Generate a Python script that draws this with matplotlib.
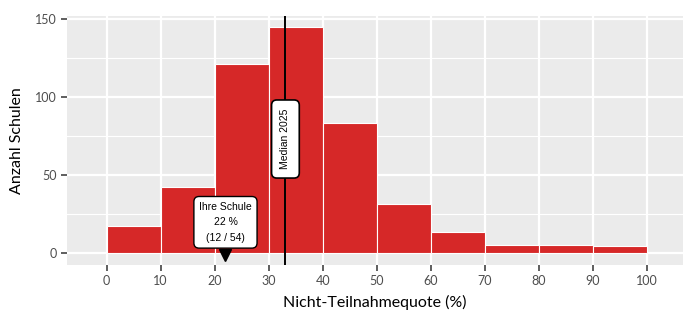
import numpy as np
import matplotlib
matplotlib.use("Agg")
import matplotlib.pyplot as plt
from matplotlib.ticker import MultipleLocator

# histogram counts, 10-point bins of the non-participation rate
bin_edges = [0, 10, 20, 30, 40, 50, 60, 70, 80, 90, 100]
counts = [17, 42, 121, 145, 83, 31, 13, 5, 5, 4]

median_2025 = 33.1
school_rate = 22
school_label = "Ihre Schule\n22 %\n(12 / 54)"
median_label = "Median 2025"

x_ticks = [0, 10, 20, 30, 40, 50, 60, 70, 80, 90, 100]
y_ticks = [0, 50, 100, 150]

BAR_RED = "#D62828"
PANEL_GREY = "#EBEBEB"

plt.rcParams["font.family"] = ["Lato", "DejaVu Sans"]

fig = plt.figure(figsize=(6.83, 3.11), dpi=100)
ax = fig.add_axes([0.098, 0.148, 0.902, 0.801])
ax.set_facecolor(PANEL_GREY)

widths = np.diff(bin_edges)
ax.bar(bin_edges[:-1], counts, width=widths, align="edge",
       color=BAR_RED, edgecolor="white", linewidth=0.8, zorder=3)

ax.set_xlim(-7.35, 106.7)
ax.set_ylim(-7.9, 152.1)
ax.set_xticks(x_ticks)
ax.set_yticks(y_ticks)
ax.yaxis.set_minor_locator(MultipleLocator(25))

ax.grid(which="major", color="white", linewidth=1.6, zorder=0)
ax.grid(which="minor", axis="y", color="white", linewidth=0.8, zorder=0)
ax.set_axisbelow(True)

for s in ax.spines.values():
    s.set_visible(False)

ax.tick_params(axis="both", which="major", length=4, width=1.1,
               color="#333333", labelcolor="#4D4D4D", labelsize=9, pad=3)
ax.tick_params(axis="y", which="minor", length=0)

ax.set_xlabel("Nicht-Teilnahmequote (%)", fontsize=11.5, labelpad=6)
ax.set_ylabel("Anzahl Schulen", fontsize=11.5, labelpad=8)

# median line with rotated label
ax.axvline(median_2025, color="black", linewidth=1.4, zorder=4)
ax.text(median_2025, 73, median_label, rotation=90, ha="center", va="center",
        fontsize=7.5, family=["Liberation Sans", "DejaVu Sans"], zorder=5,
        bbox=dict(boxstyle="round,pad=0.85,rounding_size=0.5",
                  facecolor="white", edgecolor="black", linewidth=1.2))

# your school marker
ax.plot([school_rate], [-1.6], marker="v", markersize=9, color="black",
        linestyle="none", zorder=5, clip_on=False)
ax.text(school_rate, 19.5, school_label, ha="center", va="center",
        fontsize=7.5, linespacing=1.7, family=["Liberation Sans", "DejaVu Sans"],
        zorder=6,
        bbox=dict(boxstyle="round,pad=0.5,rounding_size=0.5",
                  facecolor="white", edgecolor="black", linewidth=1.0))

fig.savefig("out.png", dpi=100)
